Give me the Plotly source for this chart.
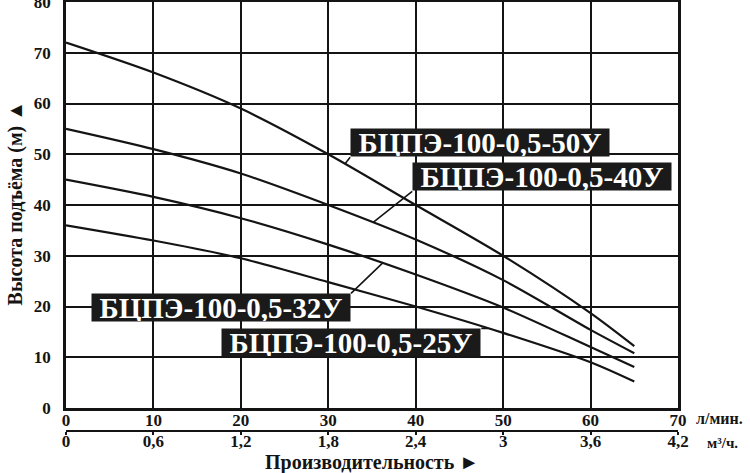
import numpy as np
import plotly.graph_objects as go

# Flow, l/min
flow = [0, 10, 20, 30, 40, 50, 60, 65]
# Head, m
h50 = [72, 66.1, 59, 50, 40, 30, 18.7, 12.2]
h40 = [55, 51, 46.2, 40, 33.2, 25.2, 15.4, 10.8]
h32 = [45, 41.6, 37.4, 32.2, 26.3, 19.8, 12, 8.1]
h25 = [36, 33, 29.5, 24.8, 20, 14.8, 9, 5.2]

series_names = ["БЦПЭ-100-0,5-50У", "БЦПЭ-100-0,5-40У", "БЦПЭ-100-0,5-32У", "БЦПЭ-100-0,5-25У"]
series = [h50, h40, h32, h25]

x_ticks = [0, 10, 20, 30, 40, 50, 60, 70]
y_ticks = [0, 10, 20, 30, 40, 50, 60, 70, 80]
m3_ticks = [0, 0.6, 1.2, 1.8, 2.4, 3.0, 3.6, 4.2]
m3_labels = ["0", "0,6", "1,2", "1,8", "2,4", "3", "3,6", "4,2"]

# label placement: (tail x, tail y, anchor x, anchor y, curve point x)
label_pos = [
    (32.5, 49.4, "left", "bottom", 31.9),
    (39.6, 42.7, "left", "bottom", 35.1),
    (32.6, 22.6, "right", "top", 36.2),
    (47.5, 15.7, "right", "top", 48.3),
]

FONT = "Liberation Serif"
INK = "#141414"

fig = go.Figure()
for name, ys in zip(series_names, series):
    fig.add_trace(go.Scatter(x=flow, y=ys, mode="lines", name=name,
                             line=dict(color=INK, width=2.2, shape="spline", smoothing=0.8),
                             showlegend=False, hoverinfo="skip"))
# dummy trace on the secondary (m3/h) axis so it is drawn
fig.add_trace(go.Scatter(x=m3_ticks, y=[None] * len(m3_ticks), xaxis="x2", yaxis="y",
                         mode="lines", showlegend=False, hoverinfo="skip"))

for name, ys, (ax, ay, xa, ya, px) in zip(series_names, series, label_pos):
    py = float(np.interp(px, flow, ys))
    fig.add_annotation(x=px, y=py, xref="x", yref="y", ax=ax, ay=ay, axref="x", ayref="y",
                       text="<b>" + name + "</b>", showarrow=True, arrowhead=0,
                       arrowwidth=1.6, arrowcolor=INK, xanchor=xa, yanchor=ya,
                       bgcolor="#1a1a1a", width=258, height=27, borderpad=0,
                       font=dict(family=FONT, size=29, color="white"))

fig.add_annotation(text="<b>Высота подъёма (м) ▲</b>", textangle=-90, xref="paper", yref="paper",
                   x=-0.083, y=0.531, showarrow=False, xanchor="center", yanchor="middle",
                   font=dict(family=FONT, size=20, color=INK))
fig.add_annotation(text="<b>Производительность ►</b>", xref="paper", yref="paper",
                   x=0.5, y=-0.074, showarrow=False, xanchor="center", yanchor="middle",
                   font=dict(family=FONT, size=20, color=INK))
fig.add_annotation(text="<b>л/мин.</b>", xref="paper", yref="paper",
                   x=1.026, y=0.03, showarrow=False, xanchor="left", yanchor="middle",
                   font=dict(family=FONT, size=16, color=INK))
fig.add_annotation(text="<b>м³/ч.</b>", xref="paper", yref="paper",
                   x=1.044, y=-0.028, showarrow=False, xanchor="left", yanchor="middle",
                   font=dict(family=FONT, size=15, color=INK))

tickfont = dict(family=FONT, size=17, color=INK, weight="bold")

fig.update_layout(
    width=750, height=473,
    margin=dict(l=66, r=72, t=2, b=42, autoexpand=False),
    paper_bgcolor="white", plot_bgcolor="white",
    xaxis=dict(range=[0, 70], tickvals=x_ticks, showgrid=True, gridcolor=INK, gridwidth=2,
               showline=True, linecolor=INK, linewidth=2.5, mirror=True, zeroline=False,
               ticks="", tickfont=tickfont, anchor="y", ticklabelstandoff=-5,
               ticklabeloverflow="allow", automargin=False),
    xaxis2=dict(range=[0, 4.2], tickvals=m3_ticks, ticktext=m3_labels, overlaying="x",
                anchor="free", position=0, side="bottom", showgrid=False, zeroline=False,
                showline=True, linecolor=INK, linewidth=2, ticks="outside", ticklen=3,
                tickwidth=2, tickcolor=INK, tickfont=tickfont, ticklabelstandoff=-8,
                ticklabeloverflow="allow", automargin=False),
    yaxis=dict(range=[0, 80], tickvals=y_ticks, domain=[0.0536, 1], showgrid=True,
               gridcolor=INK, gridwidth=2, showline=True, linecolor=INK, linewidth=2.5,
               mirror=True, zeroline=False, ticks="", tickfont=tickfont, ticklabelstandoff=9,
               ticklabeloverflow="allow", automargin=False),
)

fig.write_html("out.html", config={"displayModeBar": False},
               post_script="document.body.style.margin='0';")
